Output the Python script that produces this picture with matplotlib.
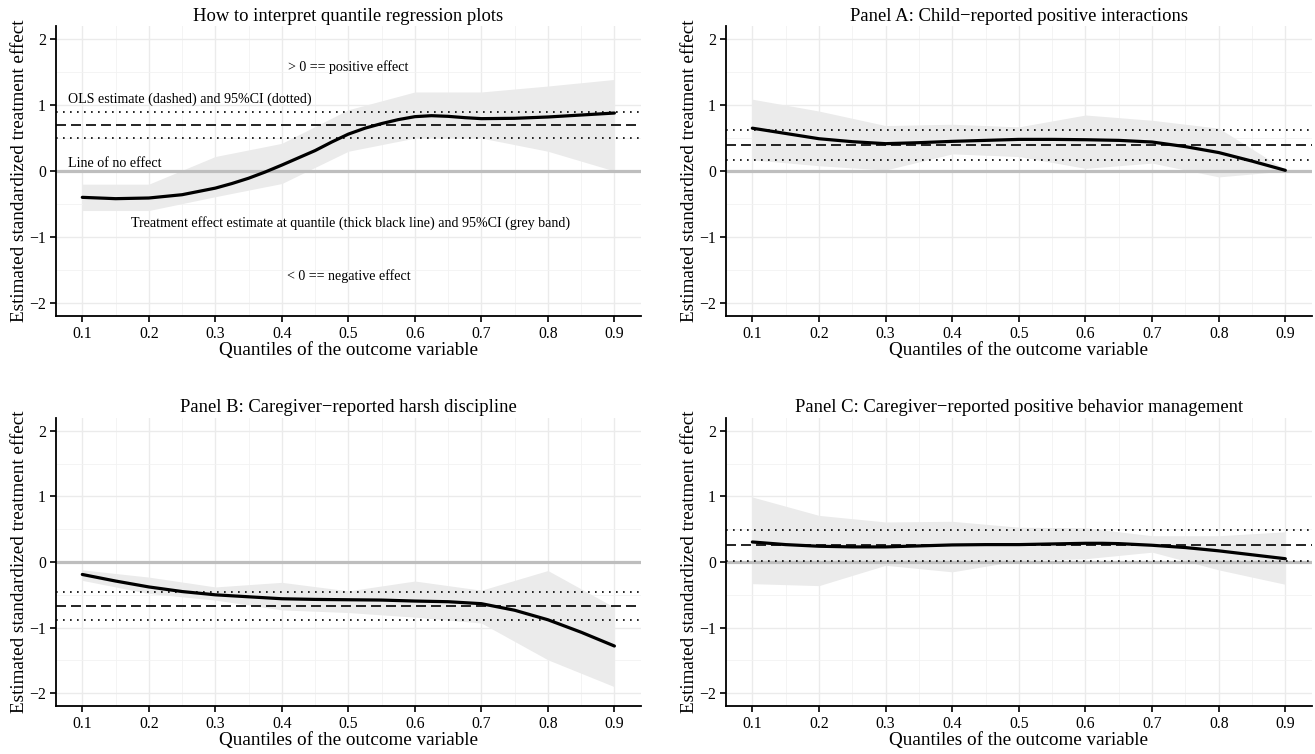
import matplotlib
matplotlib.use("Agg")
import matplotlib.pyplot as plt
from matplotlib.ticker import MultipleLocator

plt.rcParams['font.family'] = ['Liberation Serif', 'DejaVu Serif']

# Quantiles where CIs are estimated
quantiles = [0.1, 0.2, 0.3, 0.4, 0.5, 0.6, 0.7, 0.8, 0.9]

# Panel 0: How to interpret (smoothed estimate)
demo_x = [0.1, 0.15, 0.2, 0.25, 0.3, 0.325, 0.35, 0.375, 0.4, 0.425, 0.45, 0.475, 0.5, 0.525,
          0.55, 0.575, 0.6, 0.625, 0.65, 0.675, 0.7, 0.75, 0.8, 0.85, 0.9]
demo_est = [-0.40, -0.42, -0.41, -0.36, -0.26, -0.19, -0.11, -0.015, 0.09, 0.20, 0.31, 0.44, 0.56, 0.65,
            0.72, 0.78, 0.825, 0.84, 0.83, 0.81, 0.795, 0.80, 0.82, 0.85, 0.88]
demo_hi = [-0.20, -0.20, 0.22, 0.42, 0.93, 1.20, 1.20, 1.29, 1.39]
demo_lo = [-0.60, -0.60, -0.39, -0.19, 0.30, 0.50, 0.50, 0.30, 0.00]
demo_ols = [0.70, 0.50, 0.90]

# Smoothed estimates for panels A-C
curve_x = [0.1, 0.15, 0.2, 0.25, 0.3, 0.35, 0.4, 0.45, 0.5, 0.55, 0.6, 0.625, 0.65, 0.7, 0.75, 0.8, 0.85, 0.9]

# Panel A
a_est = [0.65, 0.57, 0.49, 0.445, 0.415, 0.43, 0.45, 0.465, 0.48, 0.48, 0.475, 0.47, 0.465, 0.44, 0.37, 0.28, 0.15, 0.01]
a_hi = [1.09, 0.91, 0.69, 0.71, 0.67, 0.85, 0.77, 0.65, 0.02]
a_lo = [0.17, 0.08, 0.015, 0.26, 0.22, 0.04, 0.12, -0.09, 0.00]
a_ols = [0.395, 0.17, 0.63]

# Panel B
b_est = [-0.19, -0.29, -0.38, -0.45, -0.50, -0.53, -0.56, -0.57, -0.575, -0.58, -0.595, -0.60, -0.605, -0.635, -0.735, -0.88, -1.07, -1.28]
b_hi = [-0.12, -0.23, -0.38, -0.31, -0.44, -0.29, -0.43, -0.13, -0.69]
b_lo = [-0.28, -0.48, -0.58, -0.73, -0.77, -0.84, -0.93, -1.49, -1.90]
b_ols = [-0.675, -0.89, -0.46]

# Panel C
c_est = [0.305, 0.265, 0.24, 0.23, 0.23, 0.245, 0.26, 0.265, 0.265, 0.275, 0.285, 0.285, 0.28, 0.255, 0.22, 0.17, 0.11, 0.05]
c_hi = [0.99, 0.71, 0.61, 0.62, 0.53, 0.52, 0.40, 0.40, 0.46]
c_lo = [-0.33, -0.36, -0.05, -0.15, 0.02, 0.05, 0.15, -0.12, -0.34]
c_ols = [0.26, 0.01, 0.49]

titles = ["How to interpret quantile regression plots",
          "Panel A: Child\u2212reported positive interactions",
          "Panel B: Caregiver\u2212reported harsh discipline",
          "Panel C: Caregiver\u2212reported positive behavior management"]
xlabel = "Quantiles of the outcome variable"
ylabel = "Estimated standardized treatment effect"
xticks = [0.1, 0.2, 0.3, 0.4, 0.5, 0.6, 0.7, 0.8, 0.9]
yticks = [-2, -1, 0, 1, 2]

panels = [
    (demo_x, demo_est, demo_hi, demo_lo, demo_ols),
    (curve_x, a_est, a_hi, a_lo, a_ols),
    (curve_x, b_est, b_hi, b_lo, b_ols),
    (curve_x, c_est, c_hi, c_lo, c_ols),
]

fig = plt.figure(figsize=(13.15, 7.54), dpi=100)
W, H = 1315, 754
rects = [
    (55.7, 26.1, 641, 315.9),
    (725.7, 26.1, 1312, 315.9),
    (55.7, 417.6, 641, 706.4),
    (725.7, 417.6, 1312, 706.4),
]

for i, ((cx, est, hi, lo, ols), (x0, y0, x1, y1)) in enumerate(zip(panels, rects)):
    ax = fig.add_axes([x0 / W, 1 - y1 / H, (x1 - x0) / W, (y1 - y0) / H])
    ax.set_xlim(0.06, 0.94)
    ax.set_ylim(-2.2, 2.2)
    ax.set_xticks(xticks)
    ax.set_xticklabels([f"{t:.1f}" for t in xticks])
    ax.set_yticks(yticks)
    ax.xaxis.set_minor_locator(MultipleLocator(0.05))
    ax.yaxis.set_minor_locator(MultipleLocator(0.5))
    ax.grid(which='major', color='#EBEBEB', lw=1.0)
    ax.grid(which='minor', color='#F2F2F2', lw=0.6)
    ax.set_axisbelow(True)
    for s in ['top', 'right']:
        ax.spines[s].set_visible(False)
    for s in ['left', 'bottom']:
        ax.spines[s].set_linewidth(1.3)
        ax.spines[s].set_color('black')
    ax.tick_params(which='major', length=4, width=1.2, color='black', labelsize=11.3, pad=3)
    ax.tick_params(which='minor', length=0)

    ax.fill_between(quantiles, lo, hi, color='#EBEBEB', lw=0, zorder=1)
    ax.axhline(0, color='#BEBEBE', lw=2.3, zorder=2)
    ax.axhline(ols[0], color='black', lw=1.2, ls=(0, (6, 3)), zorder=3)
    ax.axhline(ols[1], color='black', lw=1.2, ls=(0, (1, 3.2)), zorder=3)
    ax.axhline(ols[2], color='black', lw=1.2, ls=(0, (1, 3.2)), zorder=3)
    ax.plot(cx, est, color='black', lw=2.3, zorder=4, solid_capstyle='round', solid_joinstyle='round')

    ax.set_title(titles[i], fontsize=13.4, pad=4)
    ax.set_xlabel(xlabel, fontsize=13.8, labelpad=0)
    ax.set_ylabel(ylabel, fontsize=13.8, labelpad=1)

    if i == 0:
        ax.text(0.5, 1.58, "> 0 == positive effect", ha='center', va='center', fontsize=10.1)
        ax.text(0.079, 1.09, "OLS estimate (dashed) and 95%CI (dotted)", ha='left', va='center', fontsize=10.1)
        ax.text(0.079, 0.12, "Line of no effect", ha='left', va='center', fontsize=10.1)
        ax.text(0.503, -0.79, "Treatment effect estimate at quantile (thick black line) and 95%CI (grey band)",
                ha='center', va='center', fontsize=10.1)
        ax.text(0.5, -1.6, "< 0 == negative effect", ha='center', va='center', fontsize=10.1)

fig.savefig("out.png", dpi=100)
